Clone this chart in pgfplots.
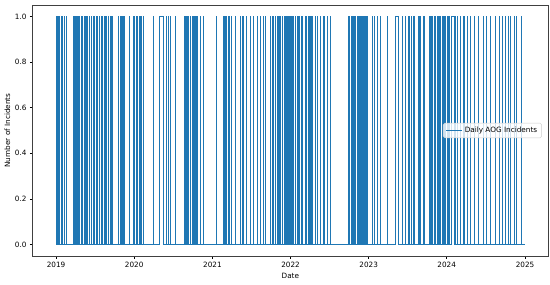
\documentclass[border=0pt]{standalone}
\usepackage{pgfplots}
\pgfplotsset{compat=1.18}
\usepackage{fontspec}
\setmainfont{DejaVu Sans}
\definecolor{c0}{HTML}{1F77B4}
\newcommand\f{\fontsize{7.3}{8.8}\selectfont}
\begin{document}
\begin{tikzpicture}
\begin{axis}[
  scale only axis,
  width=515.3bp, height=251bp,
  xmin=-109.5, xmax=2299.5,
  ymin=-0.05, ymax=1.05,
  xtick={0,365,731,1096,1461,1826,2192},
  xticklabels={2019,2020,2021,2022,2023,2024,2025},
  ytick={0,0.2,0.4,0.6,0.8,1.0},
  yticklabel style={/pgf/number format/.cd,fixed,fixed zerofill,precision=1},
  /pgf/number format/assume math mode=true,
  tick align=outside,
  xtick pos=bottom, ytick pos=left,
  major tick length=2.7bp,
  tick style={black, line width=0.5bp},
  axis line style={black!75, line width=0.6bp},
  tick label style={font=\f, black},
  every axis x label/.style={at={(axis description cs:0.5,0)}, anchor=center, yshift=-19.7bp, font=\f},
  every axis y label/.style={at={(axis description cs:0,0.5)}, rotate=90, anchor=center, yshift=25.3bp, font=\f},
  xlabel={Date},
  ylabel={Number of Incidents},
  legend style={at={(0.988,0.5)}, anchor=east, font=\f, fill=white, fill opacity=0.8, text opacity=1, draw=black!20, rounded corners=1.5bp, inner xsep=2.5bp, inner ysep=1.8bp, row sep=0pt},
  legend cell align=left,
  legend image code/.code={\draw[#1, line width=1.1bp] (0bp,0bp) -- (16bp,0bp);},
]
\addplot[c0, line width=0.75bp, const plot] coordinates {
(0,1)(1,0)(3,1)(4,0)(5,1)(6,0)(11,1)(12,0)(16,1)(17,0)(23,1)(24,0)(28,1)(29,0)(37,1)(38,0)(46,1)(47,0)
(81,1)(82,0)(87,1)(88,0)(94,1)(95,0)(101,1)(102,0)(109,1)(110,0)(116,1)(117,0)(123,1)(124,0)(131,1)(132,0)
(139,1)(140,0)(147,1)(148,0)(154,1)(155,0)(164,1)(165,0)(172,1)(173,0)(178,1)(179,0)(186,1)(187,0)
(193,1)(194,0)(203,1)(204,0)(211,1)(212,0)(217,1)(218,0)(225,1)(226,0)(232,1)(233,0)(245,1)(246,0)
(253,1)(254,0)(260,1)(261,0)(292,1)(293,0)(300,1)(301,0)(304,1)(305,0)(312,1)(313,0)(320,1)(321,0)
(343,1)(344,0)(359,1)(360,0)(366,1)(367,0)(374,1)(375,0)(381,1)(382,0)(389,1)(390,0)(396,1)(397,0)
(409,1)(410,0)(455,1)(456,0)(484,1)(500,0)(515,1)(516,0)(524,1)(525,0)(533,1)(534,0)(557,1)(558,0)
(598,1)(599,0)(604,1)(605,0)(611,1)(612,0)(619,1)(620,0)(627,1)(628,0)(635,1)(636,0)(643,1)(644,0)
(650,1)(651,0)(658,1)(659,0)(674,1)(675,0)(689,1)(690,0)(749,1)(750,0)
(780,1)(781,0)(788,1)(789,0)(795,1)(796,0)(803,1)(804,0)(811,1)(812,0)(819,1)(820,0)(838,1)(839,0)
(861,1)(862,0)(869,1)(870,0)(876,1)(877,0)(889,1)(890,0)(908,1)(909,0)(923,1)(924,0)(939,1)(940,0)
(955,1)(956,0)(967,1)(968,0)(978,1)(979,0)(1001,1)(1002,0)(1009,1)(1010,0)(1016,1)(1017,0)
(1025,1)(1026,0)(1033,1)(1034,0)(1041,1)(1042,0)(1049,1)(1050,0)(1057,1)(1058,0)
(1066,1)(1067,0)(1074,1)(1075,0)(1083,1)(1084,0)(1092,1)(1093,0)
(1102,1)(1103,0)(1108,1)(1109,0)(1118,1)(1119,0)(1127,1)(1128,0)(1134,1)(1135,0)
(1145,1)(1146,0)(1152,1)(1153,0)(1163,1)(1164,0)(1170,1)(1171,0)(1181,1)(1182,0)
(1190,1)(1191,0)(1199,1)(1200,0)(1210,1)(1211,0)(1220,1)(1221,0)
(1235,1)(1236,0)(1251,1)(1252,0)(1267,1)(1268,0)(1282,1)(1283,0)
(1368,1)(1369,0)(1372,1)(1373,0)(1378,1)(1379,0)(1384,1)(1385,0)(1390,1)(1391,0)(1394,1)(1395,0)
(1400,1)(1401,0)(1406,1)(1407,0)(1412,1)(1413,0)(1418,1)(1419,0)(1424,1)(1425,0)(1430,1)(1431,0)
(1436,1)(1437,0)(1442,1)(1443,0)(1448,1)(1449,0)(1454,1)(1455,0)(1477,1)(1478,0)(1488,1)(1489,0)
(1500,1)(1501,0)(1516,1)(1517,0)(1547,1)(1548,0)(1588,1)(1599,0)(1618,1)(1619,0)(1633,1)(1634,0)
(1649,1)(1650,0)(1660,1)(1661,0)(1672,1)(1673,0)(1695,1)(1696,0)(1703,1)(1704,0)(1719,1)(1720,0)
(1747,1)(1748,0)(1753,1)(1754,0)(1758,1)(1759,0)(1766,1)(1767,0)(1773,1)(1774,0)(1781,1)(1782,0)
(1789,1)(1790,0)(1797,1)(1798,0)(1805,1)(1806,0)(1812,1)(1813,0)(1820,1)(1821,0)(1828,1)(1829,0)
(1836,1)(1837,0)(1850,1)(1863,0)(1867,1)(1868,0)(1875,1)(1876,0)(1890,1)(1891,0)(1906,1)(1907,0)
(1922,1)(1923,0)(1937,1)(1938,0)(1956,1)(1957,0)(1972,1)(1973,0)(1997,1)(1998,0)(2012,1)(2013,0)
(2031,1)(2032,0)(2054,1)(2055,0)(2070,1)(2071,0)(2086,1)(2087,0)(2101,1)(2102,0)(2112,1)(2113,0)
(2124,1)(2125,0)(2140,1)(2141,0)(2152,1)(2153,0)(2174,1)(2175,0)(2190,0)
};
\addlegendentry{Daily AOG Incidents}
\end{axis}
\pgfresetboundingbox
\path[use as bounding box] (-32.7bp,-29bp) rectangle (517.3bp,256bp);
\end{tikzpicture}
\end{document}
